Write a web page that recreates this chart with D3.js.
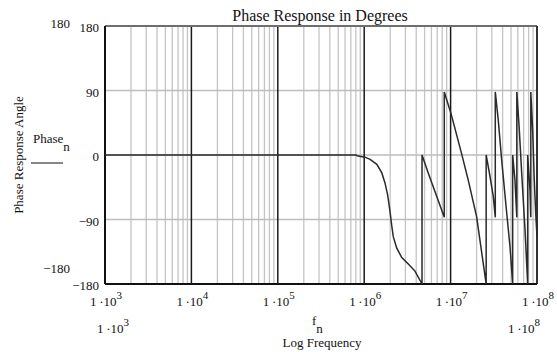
<!DOCTYPE html>
<html>
<head>
<meta charset="utf-8">
<script src="https://cdn.jsdelivr.net/npm/d3@7"></script>
<style>
  body { margin: 0; background: #fff; }
  text { font-family: "Liberation Serif", "Times New Roman", serif; fill: #111; }
</style>
</head>
<body>
<div id="chart"></div>
<script>
// frequency points (Hz) and phase (degrees)
var freqs = [1e3, 8.04e5, 8.26e5, 1.02e6, 1.17e6, 1.40e6, 1.60e6, 1.74e6, 1.87e6, 1.99e6,
    2.08e6, 2.17e6, 2.38e6, 2.72e6, 3.24e6, 3.87e6, 4.67e6, 4.67e6, 5.51e6, 6.59e6,
    8.45e6, 8.45e6, 1.01e7, 1.34e7, 1.60e7, 2.00e7, 2.58e7, 2.58e7, 2.86e7, 3.12e7,
    3.29e7, 3.29e7, 3.56e7, 3.90e7, 4.46e7, 4.87e7, 5.23e7, 5.23e7, 5.56e7, 5.84e7,
    5.84e7, 6.24e7, 6.65e7, 7.27e7, 7.80e7, 7.80e7, 8.30e7, 8.48e7, 8.48e7, 8.91e7,
    9.30e7, 9.66e7, 1e8];
var phases = [0, 0, -1, -3, -6, -13, -25, -39, -56, -79,
    -98, -114, -130, -143, -152, -162, -180, 0, -25, -51,
    -87, 88, 58, 2, -35, -86, -180, 0, -30, -58,
    -87, 88, 49, -7, -81, -128, -180, 0, -35, -87,
    88, 35, -25, -105, -180, 0, -49, -87, 88, 35,
    -35, -81, -114];

var yTicks = [180, 90, 0, -90, -180];
var yGrid = [90, 0, -90];
var decades = [3, 4, 5, 6, 7, 8];

var W = 557, H = 352;
var margin = { top: 26, right: 20, bottom: 68, left: 105 };
var x0 = margin.left, x1 = W - margin.right;
var y0 = margin.top, y1 = H - margin.bottom;

var x = d3.scaleLog().domain([1e3, 1e8]).range([x0, x1]);
var y = d3.scaleLinear().domain([-180, 180]).range([y1, y0]);

var svg = d3.select("#chart").append("svg")
    .attr("width", W).attr("height", H);
svg.append("rect").attr("width", W).attr("height", H).attr("fill", "#fff");

// minor vertical grid
var minor = [];
decades.slice(0, -1).forEach(function(d) {
    for (var k = 2; k <= 9; k++) minor.push(k * Math.pow(10, d));
});
svg.append("g").selectAll("line").data(minor).enter().append("line")
    .attr("x1", function(d) { return x(d); }).attr("x2", function(d) { return x(d); })
    .attr("y1", y0).attr("y2", y1)
    .attr("stroke", "#c4c4c4").attr("stroke-width", 1.3);

// horizontal grid
svg.append("g").selectAll("line").data(yGrid).enter().append("line")
    .attr("x1", x0).attr("x2", x1)
    .attr("y1", function(d) { return y(d); }).attr("y2", function(d) { return y(d); })
    .attr("stroke", "#bdbdbd").attr("stroke-width", 1.3);

// decade lines
svg.append("g").selectAll("line").data(decades.slice(1, -1)).enter().append("line")
    .attr("x1", function(d) { return x(Math.pow(10, d)); })
    .attr("x2", function(d) { return x(Math.pow(10, d)); })
    .attr("y1", y0).attr("y2", y1)
    .attr("stroke", "#1a1a1a").attr("stroke-width", 1.5);

// frame
svg.append("line").attr("x1", x0).attr("x2", x1).attr("y1", y0).attr("y2", y0)
    .attr("stroke", "#6e6e6e").attr("stroke-width", 2);
svg.append("line").attr("x1", x1).attr("x2", x1).attr("y1", y0).attr("y2", y1)
    .attr("stroke", "#333").attr("stroke-width", 2);
svg.append("line").attr("x1", x0).attr("x2", x0).attr("y1", y0).attr("y2", y1)
    .attr("stroke", "#111").attr("stroke-width", 2);
svg.append("line").attr("x1", x0).attr("x2", x1).attr("y1", y1).attr("y2", y1)
    .attr("stroke", "#111").attr("stroke-width", 2);

// the trace
var pts = freqs.map(function(f, i) { return [f, phases[i]]; });
var line = d3.line()
    .x(function(d) { return x(d[0]); })
    .y(function(d) { return y(d[1]); });
svg.append("path").datum(pts)
    .attr("d", line)
    .attr("fill", "none")
    .attr("stroke", "#2a2a2a")
    .attr("stroke-width", 1.5);

function fmt(v) { return v < 0 ? "\u2212" + Math.abs(v) : String(v); }

// y tick labels
svg.append("g").selectAll("text").data(yTicks).enter().append("text")
    .attr("x", 99)
    .attr("y", function(d) { return y(d) + 6; })
    .attr("text-anchor", "end")
    .attr("font-size", 13)
    .text(fmt);

// outer y limits
[180, -180].forEach(function(v, i) {
    svg.append("text").attr("x", 70).attr("y", i === 0 ? 28 : 273)
        .attr("text-anchor", "end").attr("font-size", 13).text(fmt(v));
});

// x tick labels 1·10^n
function powLabel(g, cx, cy, n) {
    var t = g.append("text").attr("x", cx).attr("y", cy)
        .attr("text-anchor", "middle").attr("font-size", 13);
    t.append("tspan").text("1\u2009\u00b710");
    t.append("tspan").attr("dy", -7).attr("font-size", 11).text(n);
}
var xl = svg.append("g");
decades.forEach(function(d) {
    powLabel(xl, x(Math.pow(10, d)) + 1, 306, d);
});
powLabel(xl, 113, 333, 3);
powLabel(xl, 524, 333, 8);

// x axis name
var fn = svg.append("text").attr("x", 312).attr("y", 325).attr("font-size", 13);
fn.append("tspan").text("f");
fn.append("tspan").attr("dy", 8).attr("font-size", 13).text("n");
svg.append("text").attr("x", 322).attr("y", 347).attr("text-anchor", "middle")
    .attr("font-size", 13).text("Log Frequency");

// y axis name
var pn = svg.append("text").attr("x", 33).attr("y", 143).attr("font-size", 13);
pn.append("tspan").text("Phase");
pn.append("tspan").attr("dy", 8).attr("font-size", 13).text("n");
svg.append("line").attr("x1", 31).attr("x2", 63).attr("y1", 163).attr("y2", 163)
    .attr("stroke", "#111").attr("stroke-width", 1);
svg.append("text")
    .attr("transform", "translate(23,155) rotate(-90)")
    .attr("text-anchor", "middle").attr("font-size", 13)
    .text("Phase Response Angle");

// title
svg.append("text").attr("x", 320).attr("y", 21).attr("text-anchor", "middle")
    .attr("font-size", 16).text("Phase Response in Degrees");
</script>
</body>
</html>
